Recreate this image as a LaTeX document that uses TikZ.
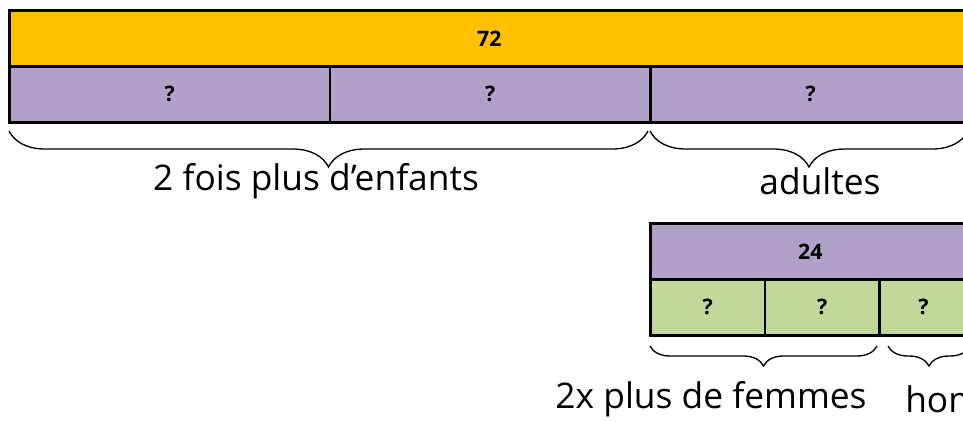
\documentclass[tikz,border=0pt]{standalone}
\usepackage{fontspec}
\setmainfont{Open Sans}
\usetikzlibrary{decorations.pathreplacing}

\definecolor{barorange}{HTML}{FFC000}
\definecolor{barpurple}{HTML}{B1A0C7}
\definecolor{bargreen}{HTML}{C4D79B}

\begin{document}
\begin{tikzpicture}[x=0.75pt,y=-0.75pt,
    cell/.style={draw=black,line width=2pt,anchor=north west,minimum height=42pt,inner sep=0pt,
      font=\bfseries\fontsize{16}{18}\selectfont},
    bigbrace/.style={decorate,decoration={brace,mirror,amplitude=27pt},line width=1pt},
    smallbrace/.style={decorate,decoration={brace,mirror,amplitude=15pt},line width=1pt},
    label/.style={font=\fontsize{26.5}{30}\selectfont,inner sep=0pt}]
				\useasboundingbox (0,0) rectangle (963,421);
				\clip (0,0) rectangle (963,421);
				% top bar
				\node[cell,fill=barorange,minimum width=720pt] (total) at (8,9) {72};
				\node[cell,fill=barpurple,minimum width=240.4pt] (p1) at (8,65) {?};
				\node[cell,fill=barpurple,minimum width=240.4pt] (p2) at (328.5,65) {?};
				\node[cell,fill=barpurple,minimum width=240.4pt] (p3) at (649,65) {?};
				% adults bar
				\node[cell,fill=barpurple,minimum width=240pt] (adults) at (649,222) {24};
				\node[cell,fill=bargreen,minimum width=85.9pt] (g1) at (649,278) {?};
				\node[cell,fill=bargreen,minimum width=85.9pt] (g2) at (763.5,278) {?};
				\node[cell,fill=bargreen,minimum width=66pt] (g3) at (878,278) {?};
				% braces
				\coordinate (b1s) at (9,131);
				\coordinate (b1e) at (648,131);
				\coordinate (b2s) at (650,131);
				\coordinate (b2e) at (968,131);
				\coordinate (b3s) at (650,346);
				\coordinate (b3e) at (877,346);
				\coordinate (b4s) at (888,346);
				\coordinate (b4e) at (970,346);
				\draw[bigbrace] (b1s) -- (b1e);
				\draw[bigbrace] (b2s) -- (b2e);
				\draw[smallbrace] (b3s) -- (b3e);
				\draw[smallbrace] (b4s) -- (b4e);
				% labels
				\node[label] (enfants) at (316,181) {2 fois plus d’enfants};
				\node[label] (adultes) at (820,181) {adultes};
				\node[label] (femmes) at (711,399) {2x plus de femmes};
				\node[label,anchor=west] (hommes) at (905,399) {hommes};
			\end{tikzpicture}
\end{document}
